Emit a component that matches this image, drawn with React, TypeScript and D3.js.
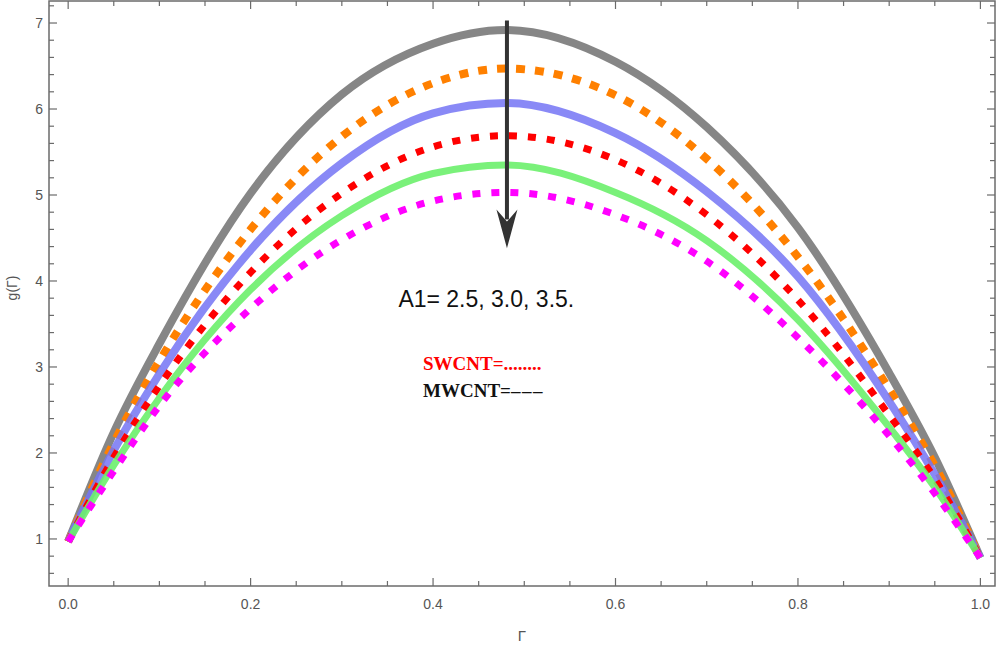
import React, { useEffect, useRef } from 'react';
import * as d3 from 'd3';

// Γ positions where the curves were read
const gammaX = [0, 0.05, 0.1, 0.2, 0.3, 0.4, 0.48, 0.6, 0.7, 0.8, 0.9, 0.95, 1];

// g(Γ) readings, top curve to bottom curve
const blackVals = [0.97, 2.24, 3.27, 5.02, 6.17, 6.76, 6.92, 6.55, 5.79, 4.62, 2.93, 1.95, 0.78];
const orangeVals = [0.97, 2.12, 3.07, 4.6, 5.68, 6.3, 6.47, 6.16, 5.42, 4.28, 2.74, 1.85, 0.78];
const blueVals = [0.97, 2.03, 2.92, 4.36, 5.37, 5.95, 6.07, 5.72, 5.04, 4.05, 2.6, 1.75, 0.78];
const redVals = [0.97, 1.95, 2.78, 4.1, 5.02, 5.56, 5.69, 5.41, 4.77, 3.78, 2.44, 1.7, 0.78];
const greenVals = [0.97, 1.86, 2.64, 3.9, 4.76, 5.25, 5.35, 5.03, 4.47, 3.55, 2.3, 1.6, 0.78];
const magentaVals = [0.97, 1.79, 2.55, 3.68, 4.48, 4.93, 5.03, 4.77, 4.23, 3.34, 2.2, 1.53, 0.78];

const xTicks = [0, 0.2, 0.4, 0.6, 0.8, 1.0];
const xTickLabels = ['0.0', '0.2', '0.4', '0.6', '0.8', '1.0'];
const yTicks = [1, 2, 3, 4, 5, 6, 7];

const series = [
  { name: 'black', values: blackVals, color: '#808080', width: 8, dash: null, opacity: 0.95 },
  { name: 'orange', values: orangeVals, color: '#ff8000', width: 8, dash: '9 10', opacity: 1 },
  { name: 'blue', values: blueVals, color: '#7474f4', width: 8, dash: null, opacity: 0.85 },
  { name: 'red', values: redVals, color: '#ff0000', width: 7, dash: '8 11', opacity: 1 },
  { name: 'green', values: greenVals, color: '#6cf06c', width: 7, dash: null, opacity: 0.9 },
  { name: 'magenta', values: magentaVals, color: '#ff00ff', width: 7, dash: '8 11', opacity: 1 },
];

export default function App() {
  const svgRef = useRef<SVGSVGElement>(null);

  useEffect(() => {
    if (!svgRef.current) return;
    const svg = d3.select(svgRef.current);
    svg.selectAll('*').remove();

    const x = d3.scaleLinear().domain([-0.021, 1.016]).range([49, 995]);
    const y = d3.scaleLinear().domain([0.453, 7.256]).range([586, 1]);
    const frame = '#6b6b6b';
    const labelColor = '#555';
    const font = 'Liberation Sans, Arial, sans-serif';
    const serif = 'Liberation Serif, Times New Roman, serif';

    // curves
    const line = d3.line<number>()
      .x((_, i) => x(gammaX[i]))
      .y(d => y(d))
      .curve(d3.curveMonotoneX);

    series.forEach(s => {
      svg.append('path')
        .datum(s.values)
        .attr('fill', 'none')
        .attr('stroke', s.color)
        .attr('stroke-width', s.width)
        .attr('stroke-opacity', s.opacity)
        .attr('stroke-dasharray', s.dash ?? null)
        .attr('d', line);
    });

    // frame
    svg.append('rect')
      .attr('x', x.range()[0])
      .attr('y', y.range()[1])
      .attr('width', x.range()[1] - x.range()[0])
      .attr('height', y.range()[0] - y.range()[1])
      .attr('fill', 'none')
      .attr('stroke', frame)
      .attr('stroke-width', 1.5);

    // ticks on all four sides
    const xMinor = d3.range(0, 1.0001, 0.05).filter(v => !xTicks.some(t => Math.abs(t - v) < 1e-6));
    const yMinor = d3.range(0.6, 7.25, 0.2).filter(v => !yTicks.some(t => Math.abs(t - v) < 1e-6));
    const [x0, x1] = x.range();
    const [yb, yt] = y.range();
    const ticks = svg.append('g').attr('stroke', frame).attr('stroke-width', 1.2);

    const xTickMarks = (vals: number[], len: number) => {
      vals.forEach(v => {
        ticks.append('line').attr('x1', x(v)).attr('x2', x(v)).attr('y1', yb).attr('y2', yb - len);
        ticks.append('line').attr('x1', x(v)).attr('x2', x(v)).attr('y1', yt).attr('y2', yt + len);
      });
    };
    const yTickMarks = (vals: number[], len: number) => {
      vals.forEach(v => {
        ticks.append('line').attr('x1', x0).attr('x2', x0 + len).attr('y1', y(v)).attr('y2', y(v));
        ticks.append('line').attr('x1', x1).attr('x2', x1 - len).attr('y1', y(v)).attr('y2', y(v));
      });
    };
    xTickMarks(xTicks, 8);
    xTickMarks(xMinor, 5);
    yTickMarks(yTicks, 8);
    yTickMarks(yMinor, 5);

    // tick labels
    svg.append('g')
      .selectAll('text')
      .data(xTicks)
      .join('text')
      .attr('x', d => x(d))
      .attr('y', 609)
      .attr('text-anchor', 'middle')
      .attr('font-family', font)
      .attr('font-size', 14)
      .attr('fill', labelColor)
      .text((_, i) => xTickLabels[i]);

    svg.append('g')
      .selectAll('text')
      .data(yTicks)
      .join('text')
      .attr('x', 43)
      .attr('y', d => y(d))
      .attr('dy', '0.36em')
      .attr('text-anchor', 'end')
      .attr('font-family', font)
      .attr('font-size', 14)
      .attr('fill', labelColor)
      .text(d => String(d));

    // axis titles
    svg.append('text')
      .attr('x', 522)
      .attr('y', 641)
      .attr('text-anchor', 'middle')
      .attr('font-family', font)
      .attr('font-size', 15)
      .attr('fill', labelColor)
      .text('Γ');

    svg.append('text')
      .attr('transform', 'translate(17,288) rotate(-90)')
      .attr('text-anchor', 'middle')
      .attr('font-family', font)
      .attr('font-size', 14)
      .attr('fill', labelColor)
      .text('g(Γ)');

    // arrow showing increasing A1
    const ax = x(0.481);
    const aTop = y(7.03);
    const aBase = y(4.83);
    const aTip = y(4.38);
    svg.append('line')
      .attr('x1', ax).attr('x2', ax)
      .attr('y1', aTop).attr('y2', aBase + 10)
      .attr('stroke', '#333')
      .attr('stroke-width', 4);
    svg.append('path')
      .attr('d', `M${ax - 10.5},${aBase} L${ax},${aTip} L${ax + 10.5},${aBase} L${ax},${aBase + 12} Z`)
      .attr('fill', '#333');

    // annotations
    svg.append('text')
      .attr('x', x(0.362))
      .attr('y', y(3.7))
      .attr('font-family', font)
      .attr('font-size', 23)
      .attr('fill', '#111')
      .text('A1= 2.5, 3.0, 3.5.');

    svg.append('text')
      .attr('x', x(0.389))
      .attr('y', y(2.965))
      .attr('font-family', serif)
      .attr('font-weight', 'bold')
      .attr('font-size', 19)
      .attr('fill', '#ff0000')
      .text('SWCNT=........');

    const mw = svg.append('text')
      .attr('x', x(0.389))
      .attr('y', y(2.65))
      .attr('font-family', serif)
      .attr('font-weight', 'bold')
      .attr('font-size', 19)
      .attr('fill', '#111');
    mw.append('tspan').text('MWCNT=');
    mw.append('tspan').attr('letter-spacing', 1.5).text('–––');
  }, []);

  return (
    <svg
      ref={svgRef}
      width={1000}
      height={647}
      viewBox="0 0 1000 647"
      style={{ position: 'absolute', left: 0, top: 0, background: '#fff' }}
    />
  );
}
